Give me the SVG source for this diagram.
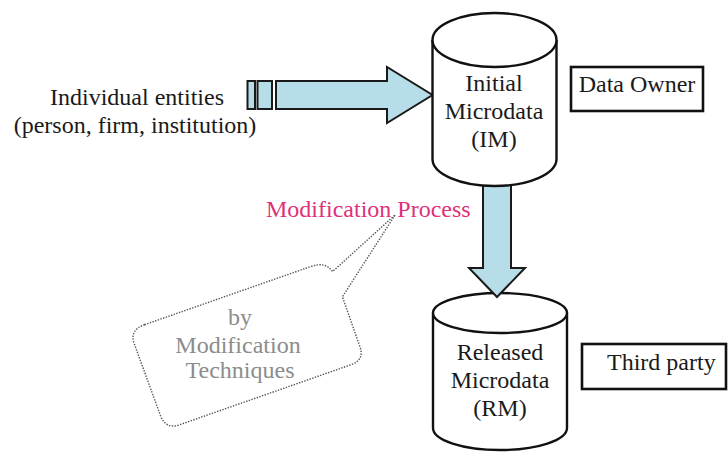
<svg xmlns="http://www.w3.org/2000/svg" width="728" height="452" viewBox="0 0 728 452">
  <style>
    text { font-family: "Liberation Serif", Tinos, "Times New Roman", serif; font-size: 24px; fill: #1a1a1a; }
    .mid { text-anchor: middle; }
    .cyl { fill: #ffffff; stroke: #111111; stroke-width: 2.4; }
    .box { fill: #ffffff; stroke: #111111; stroke-width: 2.6; }
    .flow { fill: #b7dee8; stroke: #1a1a1a; stroke-width: 2; stroke-linejoin: miter; }
    .pink { fill: #e0307a; }
    .grey { fill: #8c8c8c; }
    .bubble { fill: none; stroke: #555555; stroke-width: 1.4; stroke-dasharray: 1.4 1.4; }
  </style>

  <!-- Source label -->
  <g id="entities">
    <text class="mid" x="137" y="105">Individual entities</text>
    <text class="mid" x="135" y="133">(person, firm, institution)</text>
  </g>

  <!-- Released microdata store (drawn first so the arrow tip sits on top) -->
  <g id="released-microdata">
    <path class="cyl" d="M433,313 L433,428 A67,22 0 0 0 567,428 L567,313"/>
    <ellipse class="cyl" cx="500" cy="313" rx="67" ry="20"/>
    <text class="mid" x="500" y="360">Released</text>
    <text class="mid" x="500" y="388">Microdata</text>
    <text class="mid" x="500" y="416">(RM)</text>
  </g>

  <!-- Connectors -->
  <g id="connectors">
    <rect class="flow" x="247.5" y="81" width="7.5" height="28"/>
    <rect class="flow" x="257.5" y="81" width="14.5" height="28"/>
    <path class="flow" d="M276,81 L387,81 L387,67 L432.5,95 L387,123 L387,109 L276,109 Z"/>
    <path class="flow" d="M483,175 L511,175 L511,268 L525,268 L497,297 L469,268 L483,268 Z"/>
  </g>

  <!-- Initial microdata store -->
  <g id="initial-microdata">
    <path class="cyl" d="M432.5,40 L432.5,159 A62,27 0 0 0 556.5,159 L556.5,40"/>
    <ellipse class="cyl" cx="494.5" cy="40" rx="62" ry="27"/>
    <text class="mid" x="494" y="91">Initial</text>
    <text class="mid" x="494" y="119">Microdata</text>
    <text class="mid" x="494" y="147">(IM)</text>
  </g>

  <g id="data-owner">
    <rect class="box" x="571" y="67" width="132" height="44"/>
    <text class="mid" x="637" y="92">Data Owner</text>
  </g>

  <g id="third-party">
    <rect class="box" x="582" y="344" width="144" height="45"/>
    <text x="607" y="370">Third party</text>
  </g>

  <g id="modification-process">
    <text class="pink" x="266" y="217">Modification Process</text>
  </g>

  <!-- Callout describing the techniques -->
  <g id="techniques-callout">
    <path class="bubble" transform="translate(247,345) rotate(-19.3)"
          d="M-90,-53 L86,-53 Q102,-53 105,-41 L183,-74 L106,-14 L106,39 Q106,53 92,53 L-90,53 Q-104,53 -105,39 L-106,-39 Q-106,-53 -90,-53 Z"/>
    <text class="mid grey" x="240" y="325">by</text>
    <text class="mid grey" x="238" y="353" font-size="25.5">Modification</text>
    <text class="mid grey" x="240" y="378">Techniques</text>
  </g>
</svg>
